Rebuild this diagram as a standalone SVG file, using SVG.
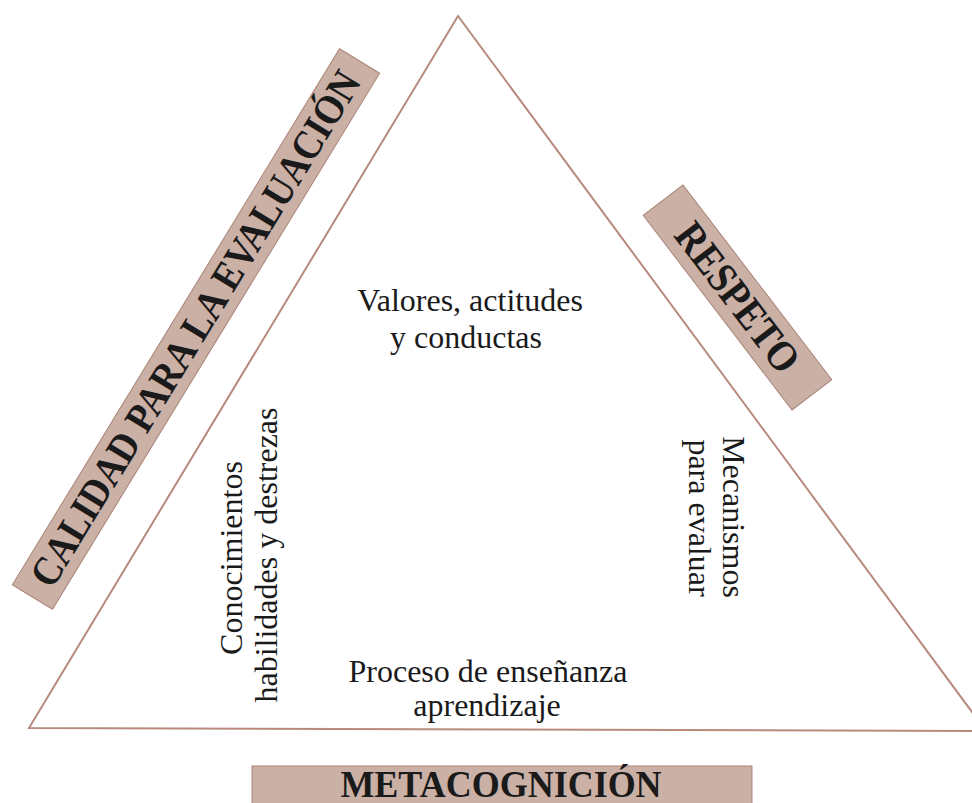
<svg xmlns="http://www.w3.org/2000/svg" width="972" height="803" viewBox="0 0 972 803">
<style>
.band{fill:#cbb0a6;stroke:#a98478;stroke-width:1}
.bt{font-family:"Liberation Serif","Times New Roman",serif;font-weight:bold;fill:#1a1a1a;text-anchor:middle}
.t{font-family:"Liberation Serif","Times New Roman",serif;font-size:32px;fill:#1a1a1a;text-anchor:middle}
.edge{fill:none;stroke:#b88a7e;stroke-width:2}
</style>
<rect width="972" height="803" fill="#ffffff"/>
<g id="connectors">
<polyline class="edge" points="986,731 458,16 29,728 986,731"/>
</g>
<g id="calidad" transform="translate(196,329) rotate(-58.6)">
<rect class="band" x="-314" y="-23.5" width="628" height="47"/>
<text class="bt" transform="translate(0,13) scale(1,1.12)" font-size="37">CALIDAD PARA LA EVALUACIÓN</text>
</g>
<g id="respeto" transform="translate(737.5,297.5) rotate(52.6)">
<rect class="band" x="-122.5" y="-25" width="245" height="50"/>
<text class="bt" transform="translate(0,14) scale(1,1.12)" font-size="38">RESPETO</text>
</g>
<g id="metacognicion">
<rect class="band" x="252" y="766" width="500" height="45"/>
<text class="bt" transform="translate(501,797) scale(1,1.08)" font-size="36">METACOGNICIÓN</text>
</g>
<g id="valores">
<text class="t" x="470" y="311">Valores, actitudes</text>
<text class="t" x="466" y="348">y conductas</text>
</g>
<g id="proceso">
<text class="t" x="488" y="682">Proceso de enseñanza</text>
<text class="t" x="487" y="716">aprendizaje</text>
</g>
<g id="conocimientos">
<text class="t" transform="translate(242,558) rotate(-90)">Conocimientos</text>
<text class="t" transform="translate(277,555) rotate(-90)">habilidades y destrezas</text>
</g>
<g id="mecanismos">
<text class="t" transform="translate(723,517) rotate(90)">Mecanismos</text>
<text class="t" transform="translate(689,518) rotate(90)">para evaluar</text>
</g>
</svg>
